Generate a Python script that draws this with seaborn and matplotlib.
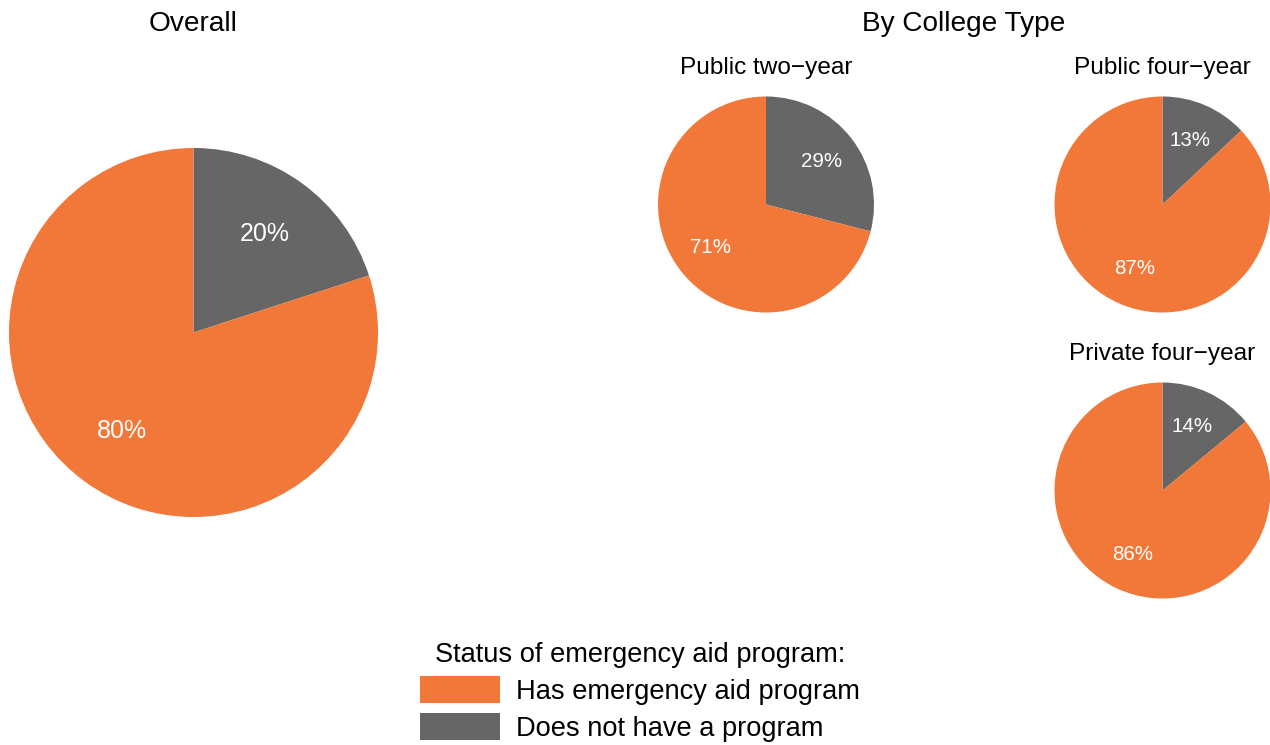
import matplotlib
matplotlib.use("Agg")
import matplotlib.pyplot as plt
import seaborn as sns
from matplotlib.patches import Patch

sns.set_theme(style="white")
plt.rcParams['font.family'] = ['Liberation Sans', 'DejaVu Sans']
plt.rcParams['text.color'] = 'black'
plt.rcParams['legend.labelcolor'] = 'black'

statuses = ["Does not have a program", "Has emergency aid program"]
colors = ["#666666", "#F2783A"]
groups = ["Overall", "Public two\u2212year", "Public four\u2212year", "Private four\u2212year"]
no_program = [20, 29, 13, 14]
has_program = [80, 71, 87, 86]
legend_title = "Status of emergency aid program:"
legend_labels = ["Has emergency aid program", "Does not have a program"]

W, H = 1270, 745
fig = plt.figure(figsize=(W / 100, H / 100), dpi=100)

# (center x, center y, radius) in pixels, title y, label fontsize, title fontsize
layout = [
    (193.5, 332.5, 184.5, 24, 18, 20.2),
    (766, 204.5, 108, 68, 14.8, 17.6),
    (1162.5, 204.5, 108, 68, 14.8, 17.6),
    (1162.5, 490.5, 108, 354, 14.8, 17.6),
]

for i, (cx, cy, r, ty, lfs, tfs) in enumerate(layout):
    ax = fig.add_axes([(cx - r) / W, (H - cy - r) / H, 2 * r / W, 2 * r / H])
    vals = [no_program[i], has_program[i]]
    wedges, texts, autotexts = ax.pie(
        vals, colors=colors, startangle=90, counterclock=False,
        autopct="%.0f%%", pctdistance=0.66 if i == 0 else 0.65,
        wedgeprops=dict(linewidth=0),
        textprops=dict(color="white", fontsize=lfs))
    ax.set_xlim(-1, 1)
    ax.set_ylim(-1, 1)
    ax.set_aspect("equal")
    ax.axis("off")
    fig.text(cx / W, 1 - ty / H, groups[i], ha="center", va="center",
             fontsize=tfs, color="black")

fig.text(964 / W, 1 - 24 / H, "By College Type", ha="center", va="center",
         fontsize=20.2, color="black")

handles = [Patch(facecolor=colors[1], edgecolor="none"),
           Patch(facecolor=colors[0], edgecolor="none")]
leg = fig.legend(handles, legend_labels, title=legend_title,
                 loc="upper center", bbox_to_anchor=(640 / W, 1 - 620 / H),
                 frameon=False, fontsize=19.6, title_fontsize=19.6,
                 handlelength=2.94, handleheight=1.15, handletextpad=0.59,
                 labelspacing=0.30, borderpad=0.3)
leg.get_title().set_color("black")

fig.savefig("out.png", dpi=100)
